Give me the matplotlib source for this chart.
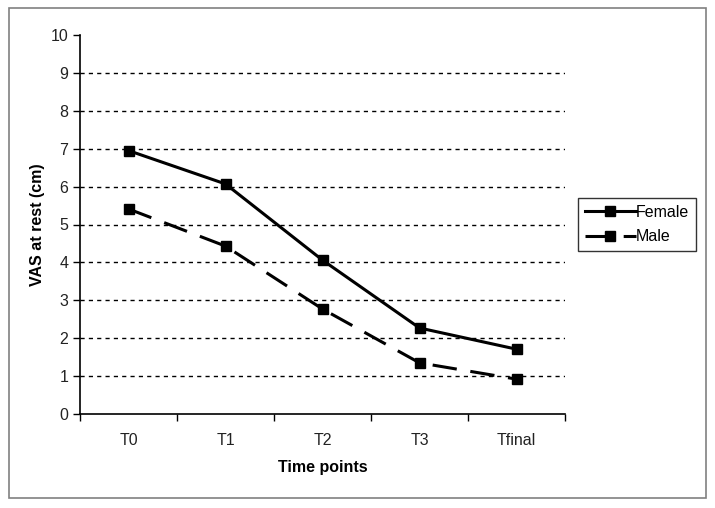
import matplotlib
matplotlib.use("Agg")
import matplotlib.pyplot as plt
from matplotlib.patches import Rectangle

categories = ["T0", "T1", "T2", "T3", "Tfinal"]
female = [6.95, 6.07, 4.06, 2.27, 1.71]
male = [5.41, 4.43, 2.77, 1.35, 0.92]
yticks = [0, 1, 2, 3, 4, 5, 6, 7, 8, 9, 10]

plt.rcParams['font.family'] = ['Liberation Sans', 'DejaVu Sans']

W, H = 715, 508
fig = plt.figure(figsize=(W / 100, H / 100), dpi=100)
fig.patch.set_facecolor('white')

# outer frame
fig.patches.append(Rectangle((9 / W, 1 - 498 / H), (706 - 9) / W, (498 - 8) / H,
                             transform=fig.transFigure, fill=False,
                             edgecolor='#808080', linewidth=1.2))

left, right, top, bottom = 80, 565, 35, 414
ax = fig.add_axes([left / W, 1 - bottom / H, (right - left) / W, (bottom - top) / H])

x = list(range(len(categories)))
lw = 2.2
ax.plot(x, female, color='black', linewidth=lw, marker='s', markersize=6.5,
        label='Female', zorder=3)
ax.plot(x, male, color='black', linewidth=lw, marker='s', markersize=6.5,
        linestyle=(0, (8, 4.5)), label='Male', zorder=3)

ax.set_xlim(-0.5, len(categories) - 0.5)
ax.set_ylim(0, 10)
ax.set_yticks(yticks)
ax.set_yticklabels([str(v) for v in yticks], fontsize=11.5, color='#222222')
ax.set_xticks(x)
ax.set_xticklabels(categories, fontsize=11.5, color='#222222')
ax.set_xticks([i - 0.5 for i in range(len(categories) + 1)], minor=True)
ax.tick_params(axis='x', which='major', length=0, pad=14)
ax.tick_params(axis='x', which='minor', length=5, width=1, direction='out')
ax.tick_params(axis='y', length=5, width=1, direction='out', pad=3.5)

for v in yticks[1:-1]:
    ax.axhline(v, color='black', linewidth=1, linestyle=(0, (3, 3)), zorder=1)

for s in ['top', 'right']:
    ax.spines[s].set_visible(False)
for s in ['left', 'bottom']:
    ax.spines[s].set_linewidth(1.2)

ax.set_ylabel('VAS at rest (cm)', fontsize=11.5, fontweight='bold', labelpad=4)
ax.set_xlabel('Time points', fontsize=11.5, fontweight='bold', labelpad=8)

leg = fig.legend(loc='upper left', bbox_to_anchor=(578 / W, 1 - 198 / H),
                 bbox_transform=fig.transFigure, fontsize=11.5, frameon=True,
                 fancybox=False, handlelength=3.2, handletextpad=0.0,
                 borderpad=0.42, labelspacing=0.6, borderaxespad=0)
leg.get_frame().set_edgecolor('black')
leg.get_frame().set_linewidth(1)

fig.savefig('out.png', dpi=100, facecolor='white')
